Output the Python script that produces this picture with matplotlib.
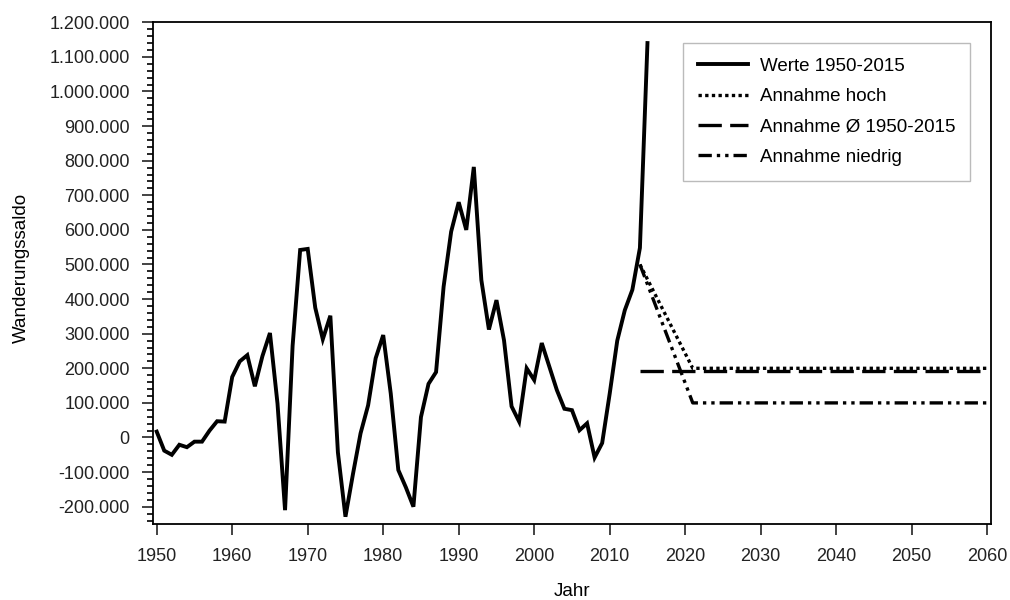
import numpy as np
import matplotlib
matplotlib.use("Agg")
import matplotlib.pyplot as plt
from matplotlib.ticker import FuncFormatter, MultipleLocator

plt.rcParams['font.family'] = ['Liberation Sans', 'DejaVu Sans']
plt.rcParams['font.size'] = 13

# Wanderungssaldo 1950-2015
jahre = np.arange(1950, 2016)
werte = [17000, -38000, -50000, -21000, -28000, -12000, -12000, 20000, 47000, 46000,
         175000, 220000, 238000, 148000, 235000, 302000, 98000, -210000, 265000, 542000,
         545000, 375000, 284000, 352000, -43000, -229000, -105000, 12000, 93000, 229000,
         296000, 127000, -94000, -144000, -200000, 59000, 155000, 189000, 436000, 595000,
         680000, 600000, 782000, 455000, 312000, 397000, 281000, 90000, 46000, 200000,
         166000, 273000, 205000, 137000, 83000, 79000, 21000, 41000, -58000, -16000,
         127000, 280000, 368000, 427000, 548000, 1140000]

# Annahmen
jahre_hoch = [2014, 2021, 2060]
werte_hoch = [500000, 200000, 200000]
jahre_mittel = [2014, 2060]
werte_mittel = [192000, 192000]
jahre_niedrig = [2014, 2021, 2060]
werte_niedrig = [500000, 100000, 100000]

fig = plt.figure(figsize=(10.1, 6), dpi=100)
ax = fig.add_axes([153.3/1010, 1-524/600, (991-153.3)/1010, (524-22.3)/600])

ax.plot(jahre, werte, color='black', lw=2.8, solid_joinstyle='miter', label='Werte 1950-2015')
ax.plot(jahre_hoch, werte_hoch, color='black', lw=2.4, linestyle=(0, (1, 1)), label='Annahme hoch')
ax.plot(jahre_mittel, werte_mittel, color='black', lw=2.4, linestyle=(0, (7, 2.5)),
        label='Annahme Ø 1950-2015')
ax.plot(jahre_niedrig, werte_niedrig, color='black', lw=2.4,
        linestyle=(0, (4, 1.5, 1, 1.5, 1, 1.5)), label='Annahme niedrig')

ax.set_xlim(1949.55, 2060.5)
ax.set_ylim(-250000, 1200000)
ax.set_xticks(np.arange(1950, 2061, 10))
ax.yaxis.set_major_locator(MultipleLocator(100000))
ax.yaxis.set_minor_locator(MultipleLocator(20000))
ax.yaxis.set_major_formatter(FuncFormatter(lambda v, p: f"{int(round(v)):,}".replace(",", ".")))
ax.tick_params(axis='y', which='major', length=8, width=1.2, pad=9, colors='#222222')
ax.tick_params(axis='y', which='minor', length=4.5, width=1.2)
ax.tick_params(axis='x', which='major', length=8, width=1.2, pad=9, colors='#222222')
for s in ax.spines.values():
    s.set_linewidth(1.3)

ax.set_xlabel('Jahr', fontsize=13.5, labelpad=13)
ax.set_ylabel('Wanderungssaldo', fontsize=13.5)
ax.yaxis.set_label_coords(-0.147, 0.51)

leg = ax.legend(loc='upper left', bbox_to_anchor=(682.7/1010, 1-42.7/600),
                bbox_transform=fig.transFigure, fancybox=False, frameon=True,
                edgecolor='#aaaaaa', handlelength=2.7, handletextpad=0.62,
                labelspacing=0.7, borderpad=0.8, borderaxespad=0, fontsize=13.5)
leg.get_frame().set_linewidth(1.0)

fig.savefig('out.png', dpi=100)
